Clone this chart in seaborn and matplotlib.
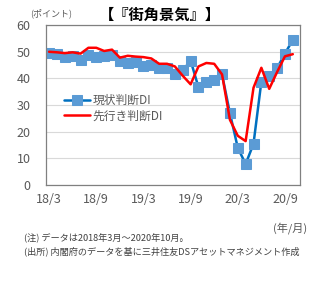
import matplotlib
matplotlib.use('agg')
from matplotlib import pyplot as plt
import numpy as np
import pandas as pd
import seaborn as sns

# 2018/3 - 2020/10, monthly
months = ['18/3', '18/4', '18/5', '18/6', '18/7', '18/8', '18/9', '18/10', '18/11', '18/12',
          '19/1', '19/2', '19/3', '19/4', '19/5', '19/6', '19/7', '19/8', '19/9', '19/10',
          '19/11', '19/12', '20/1', '20/2', '20/3', '20/4', '20/5', '20/6', '20/7', '20/8',
          '20/9', '20/10']
current_di = [49.5, 49.2, 48.0, 48.5, 47.0, 48.7, 48.0, 48.5, 48.8, 46.5,
              45.8, 46.3, 44.8, 45.0, 44.0, 44.0, 41.5, 43.0, 46.7, 36.7,
              38.8, 39.5, 41.5, 27.0, 14.0, 7.9, 15.5, 38.8, 41.1, 43.9,
              49.3, 54.5]
future_di = [50.0, 49.8, 49.5, 49.8, 49.3, 51.5, 51.5, 50.3, 50.8, 47.8,
             48.5, 48.2, 48.0, 47.5, 45.5, 45.5, 44.5, 41.0, 37.8, 44.5,
             45.8, 45.5, 41.5, 24.5, 18.5, 16.5, 36.5, 44.0, 36.1, 42.4,
             48.3, 49.1]
tick_labels = ['18/3', '18/9', '19/3', '19/9', '20/3', '20/9']

df = pd.DataFrame({'idx': np.arange(len(months)), 'month': months,
                   'current': current_di, 'future': future_di})

sns.set_style('white')
plt.rcParams['font.family'] = ['Noto Sans CJK JP', 'DejaVu Sans']

fig = plt.figure(figsize=(3.17, 2.92), dpi=100)
ax = fig.add_axes([0.145, 0.366, 0.801, 0.548])

sns.lineplot(data=df, x='idx', y='current', ax=ax, color='#0070C0', linewidth=1.8,
             marker='s', markersize=6.5, markerfacecolor='#5B9BD5', markeredgecolor='#5B9BD5',
             label='現状判断DI')
sns.lineplot(data=df, x='idx', y='future', ax=ax, color='#FF0000', linewidth=1.8,
             label='先行き判断DI')

ax.set_xlim(-0.4, 31.9)
ax.set_ylim(0, 60)
ax.set_yticks(np.arange(0, 61, 10))
ax.set_xticks([months.index(t) for t in tick_labels])
ax.set_xticklabels(tick_labels)
ax.set_xlabel('')
ax.set_ylabel('')
ax.grid(axis='y', color='#D9D9D9', linewidth=0.8)
ax.set_axisbelow(True)
for s in ax.spines.values():
    s.set_color('#808080')
    s.set_linewidth(0.9)
ax.tick_params(axis='x', direction='in', length=3, colors='#595959', labelsize=9, pad=6)
ax.tick_params(axis='y', length=0, colors='#595959', labelsize=9, pad=11)
ax.tick_params(axis='x', color='#808080')

leg = ax.legend(loc='upper left', bbox_to_anchor=(0.04, 0.62), frameon=False,
                fontsize=8.5, handlelength=2.2, handletextpad=0.2, labelspacing=0.2,
                borderpad=0.2)
for t in leg.get_texts():
    t.set_color('#595959')

fig.text(0.505, 0.95, '【『街角景気』】', ha='center', va='center', fontsize=11,
         fontweight='bold', color='black')
fig.text(0.095, 0.955, '(ポイント)', ha='left', va='center', fontsize=6.5, color='#595959')
fig.text(0.97, 0.22, '(年/月)', ha='right', va='center', fontsize=8, color='#595959')
fig.text(0.075, 0.185, '(注) データは2018年3月～2020年10月。', ha='left', va='center',
         fontsize=6.6, color='#404040')
fig.text(0.075, 0.14, '(出所) 内閣府のデータを基に三井住友DSアセットマネジメント作成',
         ha='left', va='center', fontsize=6.6, color='#404040')

fig.savefig('out.png', dpi=100)
plt.close()
